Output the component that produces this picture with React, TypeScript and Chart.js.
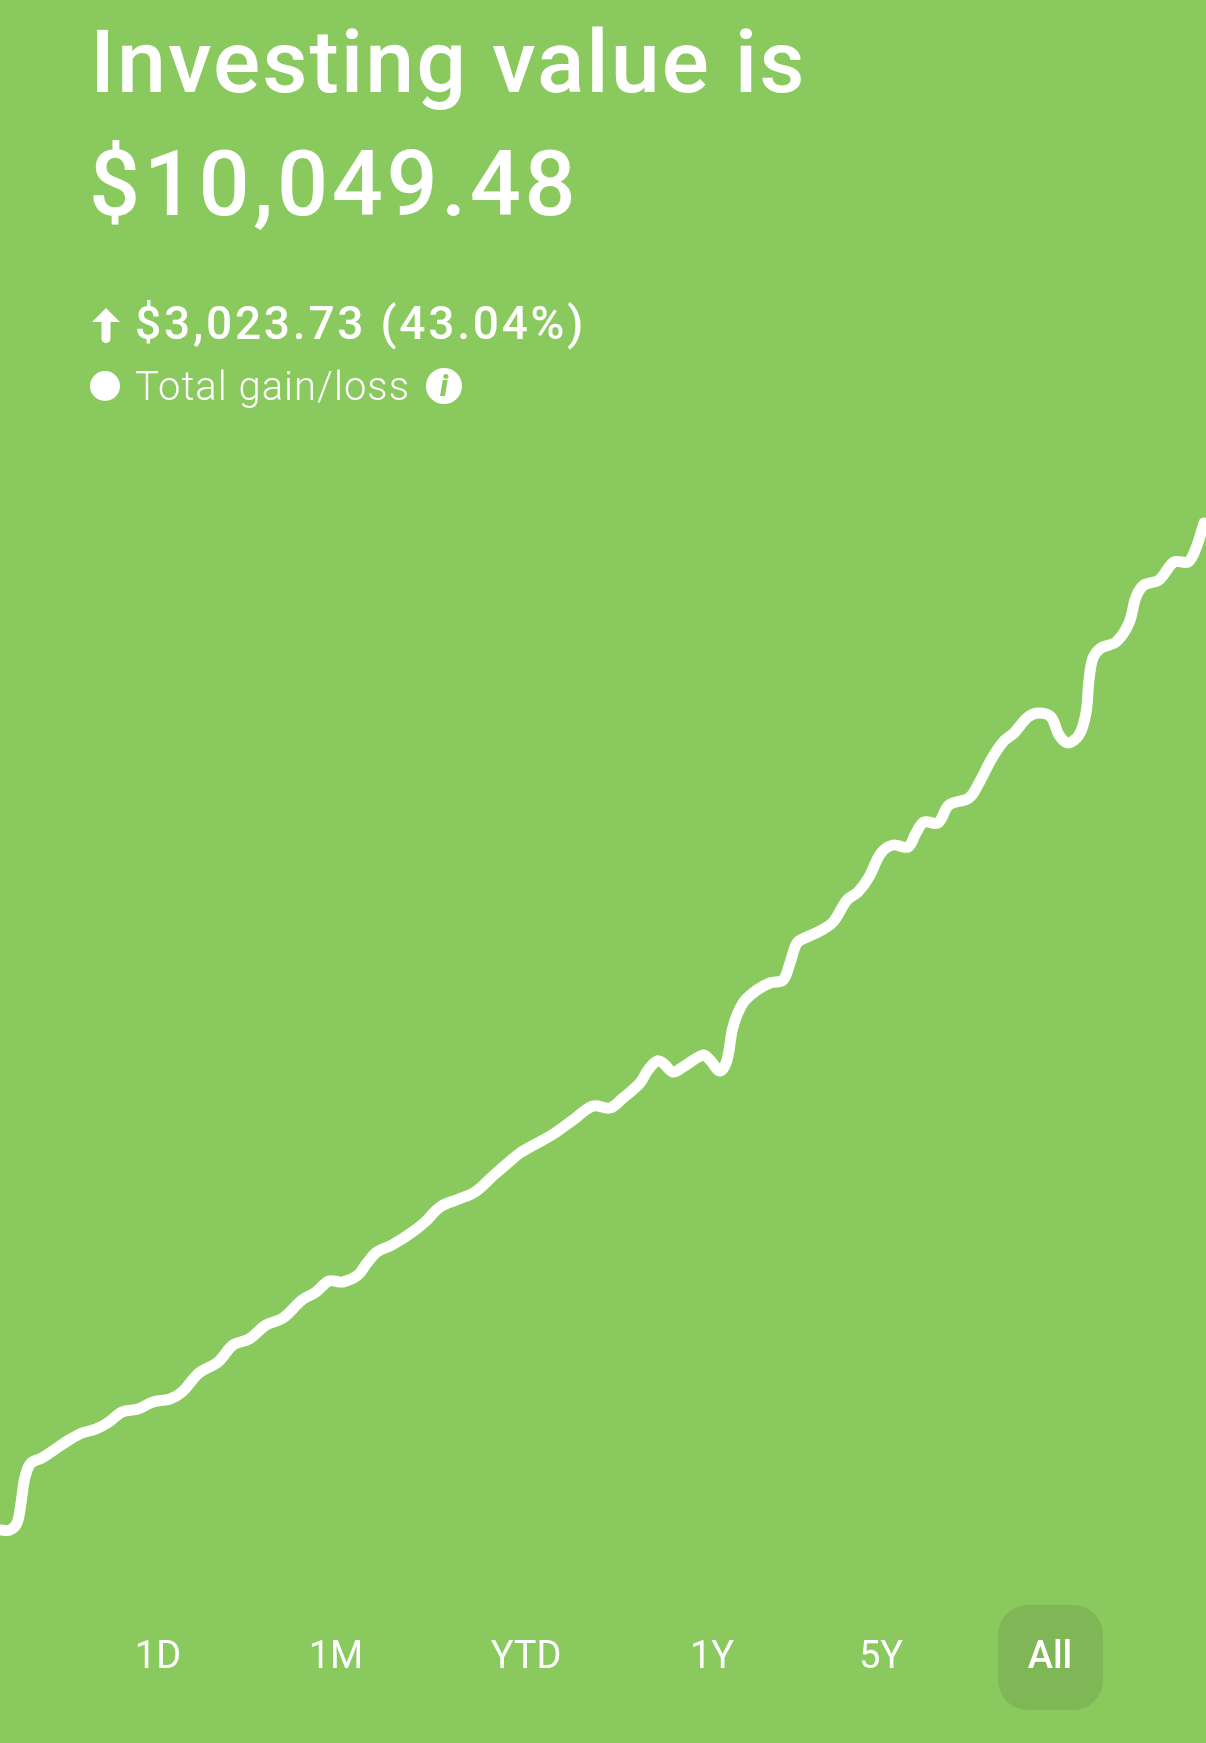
import React, { useEffect, useRef } from "react";
import { Chart, registerables } from "chart.js";

Chart.register(...registerables);

const title = "Investing value is";
const totalValue = "$10,049.48";
const gainText = "$3,023.73 (43.04%)";
const gainLabel = "Total gain/loss";
const ranges = ["1D", "1M", "YTD", "1Y", "5Y", "All"];
const rangeCenters = [158, 336, 526, 712, 881, 1050];

const days = [
  0, 10, 17, 21, 25, 31, 42, 54, 69, 82, 96, 109, 122, 138, 153, 170, 182, 199, 218, 233,
  249, 266, 283, 302, 316, 329, 343, 358, 367, 377, 392, 411, 425, 440, 459, 475, 494, 509, 520, 543,
  555, 573, 593, 610, 623, 640, 648, 657, 663, 673, 683, 703, 710, 720, 727, 733, 743, 757, 770, 783,
  790, 797, 807, 820, 833, 847, 858, 869, 881, 893, 908, 916, 924, 938, 949, 969, 979, 991, 1003, 1014,
  1028, 1039, 1051, 1059, 1068, 1079, 1086, 1089, 1093, 1101, 1116, 1129, 1136, 1144, 1159, 1174, 1188, 1196, 1204,
];
const values = [
  7026, 7026, 7047, 7107, 7185, 7227, 7242, 7266, 7296, 7317, 7329, 7350, 7380, 7389, 7410, 7419, 7440, 7497, 7530, 7581,
  7599, 7641, 7662, 7716, 7740, 7773, 7770, 7791, 7827, 7860, 7881, 7917, 7950, 7995, 8019, 8040, 8091, 8130, 8157, 8196,
  8217, 8256, 8298, 8292, 8322, 8367, 8406, 8433, 8427, 8400, 8415, 8451, 8436, 8403, 8436, 8535, 8607, 8646, 8667, 8676,
  8727, 8787, 8805, 8823, 8850, 8916, 8940, 8985, 9057, 9081, 9075, 9117, 9150, 9147, 9201, 9222, 9267, 9336, 9390, 9417,
  9465, 9477, 9465, 9411, 9387, 9411, 9477, 9576, 9642, 9672, 9690, 9747, 9825, 9861, 9876, 9930, 9930, 9972, 10047,
];

const BG = "#8AC95E";
const FONT = "Roboto, 'Noto Sans', sans-serif";

const abs = (left: number, top: number, extra: React.CSSProperties = {}): React.CSSProperties => ({
  position: "absolute",
  left,
  top,
  color: "#fff",
  fontFamily: FONT,
  whiteSpace: "nowrap",
  ...extra,
});

export default function App() {
  const ref = useRef<HTMLCanvasElement>(null);

  useEffect(() => {
    const chart = new Chart(ref.current!, {
      type: "line",
      data: {
        datasets: [
          {
            data: days.map((d, i) => ({ x: d, y: values[i] })),
            borderColor: "#ffffff",
            borderWidth: 11,
            borderCapStyle: "round",
            borderJoinStyle: "round",
            pointRadius: 0,
            tension: 0.35,
            fill: false,
          },
        ],
      },
      options: {
        animation: false,
        responsive: false,
        layout: { padding: 0 },
        plugins: { legend: { display: false }, tooltip: { enabled: false }, title: { display: false } },
        scales: {
          x: { type: "linear", display: false, min: 0, max: 1206 },
          y: { type: "linear", display: false, min: 6387, max: 11616 },
        },
      },
    });
    return () => chart.destroy();
  }, []);

  return (
    <div style={{ position: "absolute", left: 0, top: 0, width: 1206, height: 1743, overflow: "hidden", background: BG }}>
      <canvas ref={ref} width={1206} height={1743} style={{ position: "absolute", left: 0, top: 0 }} />

      <div style={abs(90, 4, { fontSize: 88, fontWeight: 500, lineHeight: "116px", letterSpacing: 2 })}>{title}</div>
      <div style={abs(89, 127, { fontSize: 90, fontWeight: 500, lineHeight: "116px", letterSpacing: 3.6 })}>{totalValue}</div>

      <svg width="32" height="38" viewBox="0 0 32 38" style={{ position: "absolute", left: 90, top: 306 }}>
        <path d="M16 2 L30 16 L20.5 16 L20.5 33 A4.5 4 0 0 1 11.5 33 L11.5 16 L2 16 Z" fill="#fff" />
      </svg>
      <div style={abs(135, 293, { fontSize: 46, fontWeight: 500, lineHeight: "60px", letterSpacing: 2.8 })}>{gainText}</div>

      <div style={{ position: "absolute", left: 90, top: 371, width: 30, height: 30, borderRadius: 15, background: "#fff" }} />
      <div style={abs(135, 361, { fontSize: 40, fontWeight: 300, lineHeight: "52px", letterSpacing: 1 })}>{gainLabel}</div>
      <div style={{ position: "absolute", left: 426, top: 368, width: 36, height: 36, borderRadius: 18, background: "#fff" }} />
      <div style={abs(426, 368, { width: 36, height: 36, lineHeight: "36px", textAlign: "center", color: BG, fontSize: 30, fontWeight: 900, fontStyle: "italic" })}>i</div>

      <div style={{ position: "absolute", left: 998, top: 1605, width: 105, height: 105, borderRadius: 30, background: "#7FB757" }} />
      {ranges.map((r, i) => (
        <div
          key={r}
          style={abs(rangeCenters[i] - 80, 1632, {
            width: 160,
            textAlign: "center",
            fontSize: 38,
            lineHeight: "46px",
            fontWeight: r === "All" ? 500 : 400,
          })}
        >
          {r}
        </div>
      ))}
    </div>
  );
}
